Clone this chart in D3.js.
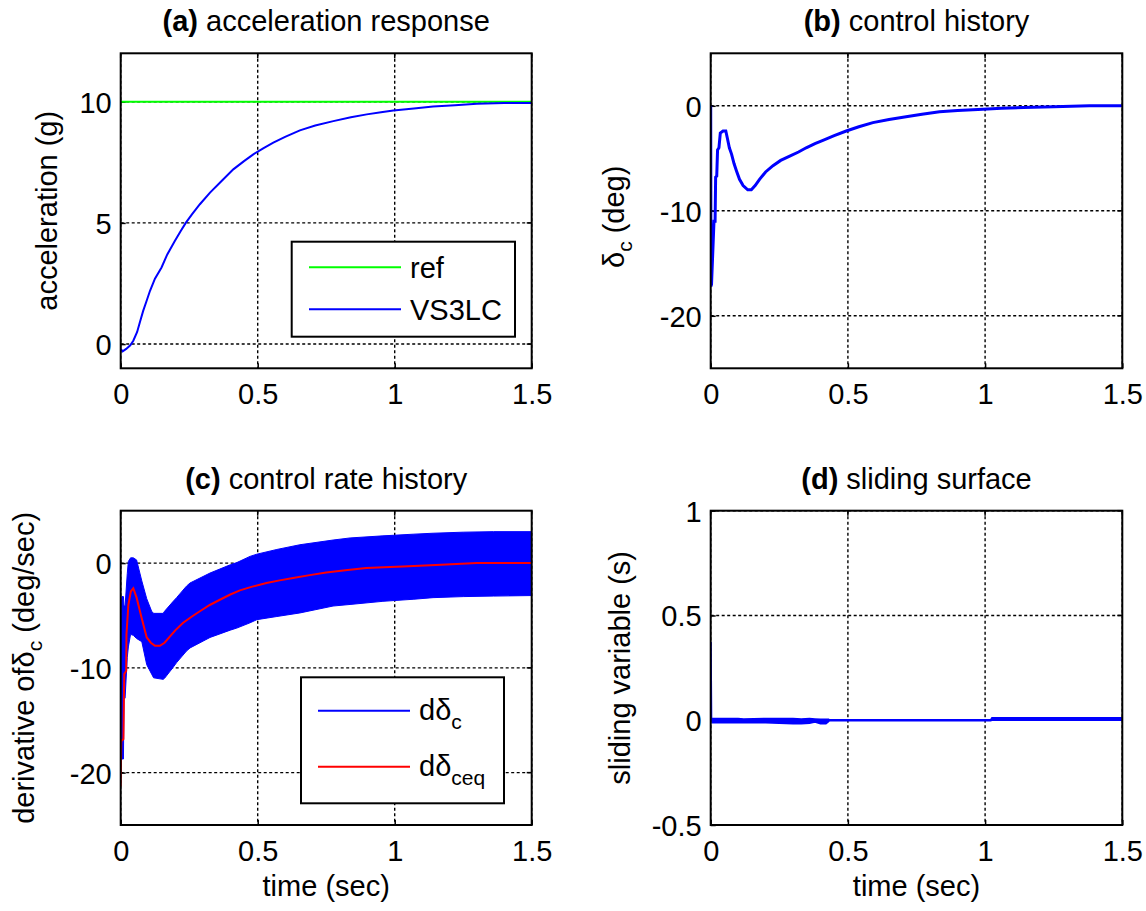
<!DOCTYPE html>
<html><head><meta charset="utf-8">
<script src="https://cdn.jsdelivr.net/npm/d3@7"></script>
<style>
body{margin:0;background:#fff;}
text{font-family:"Liberation Sans",Arial,Helvetica,sans-serif;fill:#000;}
</style></head>
<body><svg id="c" width="1146" height="911"></svg>
<script>
// ---------- data ----------
const xTicks = [0, 0.5, 1, 1.5];
const xTickLabels = ["0", "0.5", "1", "1.5"];

// (a) acceleration response
const accTime = [0, 0.007, 0.02, 0.035, 0.046, 0.06, 0.07, 0.082, 0.095, 0.107, 0.125, 0.149, 0.17, 0.198, 0.218, 0.238, 0.26, 0.289, 0.326, 0.37, 0.411, 0.45, 0.484, 0.52, 0.557, 0.6, 0.654, 0.71, 0.776, 0.84, 0.898, 0.95, 0.995, 1.07, 1.14, 1.22, 1.30, 1.40, 1.5];
const accVS3LC = [-0.2, -0.3, -0.2, -0.05, 0.14, 0.5, 0.9, 1.37, 1.8, 2.2, 2.7, 3.16, 3.7, 4.26, 4.65, 5.01, 5.35, 5.77, 6.25, 6.75, 7.21, 7.55, 7.83, 8.08, 8.31, 8.55, 8.82, 9.02, 9.2, 9.36, 9.48, 9.57, 9.64, 9.72, 9.8, 9.86, 9.92, 9.95, 9.95];
const accRefTime = [0, 1.5];
const accRef = [10, 10];
const accTicks = [0, 5, 10];

// (b) control history
const ctrlTime = [0, 0.001, 0.003, 0.012, 0.016, 0.018, 0.022, 0.025, 0.03, 0.035, 0.045, 0.055, 0.06, 0.068, 0.076, 0.085, 0.094, 0.105, 0.118, 0.135, 0.148, 0.162, 0.178, 0.2, 0.227, 0.255, 0.288, 0.32, 0.348, 0.38, 0.409, 0.45, 0.494, 0.54, 0.591, 0.65, 0.712, 0.77, 0.834, 0.9, 0.992, 1.06, 1.14, 1.25, 1.38, 1.5];
const ctrlDelta = [0, -17.2, -17.0, -11.0, -11.0, -6.8, -6.7, -4.2, -4.0, -2.6, -2.4, -2.4, -3.0, -4.0, -4.6, -5.5, -6.2, -7.0, -7.6, -8.0, -8.0, -7.6, -7.0, -6.3, -5.7, -5.2, -4.8, -4.4, -4.0, -3.6, -3.3, -2.85, -2.4, -2.0, -1.6, -1.3, -1.05, -0.8, -0.57, -0.45, -0.32, -0.24, -0.16, -0.08, 0, 0];
const ctrlTicks = [-20, -10, 0];

// (c) control rate history
const rateTime = [0, 0.004, 0.01, 0.012, 0.016, 0.024, 0.028, 0.036, 0.046, 0.058, 0.077, 0.095, 0.113, 0.12, 0.155, 0.16, 0.19, 0.204, 0.24, 0.253, 0.326, 0.4, 0.424, 0.472, 0.497, 0.57, 0.654, 0.775, 0.837, 0.957, 1.07, 1.14, 1.25, 1.36, 1.5];
const rateUpper = [-6.0, -3.2, -3.2, -4.1, -4.1, -1.0, 0.16, 0.5, 0.5, 0.3, -1.7, -3.4, -4.6, -4.8, -4.8, -4.6, -3.7, -3.3, -2.2, -1.9, -0.95, -0.16, 0.05, 0.64, 0.85, 1.3, 1.75, 2.2, 2.4, 2.6, 2.76, 2.85, 2.95, 3.0, 3.0];
const rateLower = [-18.7, -18.7, -18.7, -12.9, -12.9, -9.0, -8.0, -6.8, -6.9, -7.2, -7.5, -9.7, -10.6, -10.95, -11.1, -11.0, -10.0, -9.5, -8.4, -8.1, -7.1, -6.4, -6.2, -5.7, -5.4, -5.1, -4.76, -4.1, -3.95, -3.65, -3.45, -3.3, -3.2, -3.15, -3.1];
const rateEqTime = [0, 0.002, 0.01, 0.012, 0.013, 0.02, 0.021, 0.028, 0.037, 0.046, 0.058, 0.076, 0.095, 0.11, 0.125, 0.143, 0.16, 0.18, 0.2, 0.228, 0.26, 0.289, 0.325, 0.362, 0.4, 0.435, 0.48, 0.532, 0.58, 0.629, 0.69, 0.75, 0.82, 0.896, 0.96, 1.03, 1.15, 1.30, 1.5];
const rateEq = [-21.3, -17.0, -16.8, -12.2, -10.6, -10.3, -6.8, -4.0, -2.7, -2.4, -3.3, -5.2, -7.1, -7.6, -7.9, -7.9, -7.6, -7.0, -6.4, -5.7, -5.1, -4.6, -4.0, -3.5, -3.0, -2.6, -2.25, -1.9, -1.65, -1.43, -1.15, -0.9, -0.68, -0.48, -0.4, -0.32, -0.18, 0, 0];
const rateTicks = [-20, -10, 0];

// (d) sliding surface
const slideSpikeTime = [0, 0.001, 0.003, 0.006];
const slideSpike = [0.37, 0.37, 0.0, 0.0];
const slideTime = [0.005, 0.1, 0.12, 0.2, 0.25, 0.3, 0.33, 0.36, 0.38, 0.40, 0.42, 0.43, 0.432, 1.02, 1.025, 1.5];
const slideUpper = [0.008, 0.008, 0.006, 0.008, 0.008, 0.008, 0.006, 0.008, 0.006, 0.004, 0.004, 0.004, 0.002, 0.002, 0.012, 0.012];
const slideLower = [-0.012, -0.012, -0.01, -0.012, -0.014, -0.016, -0.016, -0.014, -0.008, -0.016, -0.016, -0.006, -0.002, -0.002, 0.0, 0.0];
const slideTicks = [-0.5, 0, 0.5, 1];
const slideTickLabels = ["-0.5", "0", "0.5", "1"];

// ---------- drawing ----------
const svg = d3.select("#c");
const FS = 29;
const SUB = 21;
const BLUE = "#0000ff", RED = "#ff0000", GREEN = "#00ff00";

function panel(o) {
  const x = d3.scaleLinear().domain([0, 1.5]).range([o.x0, o.x1]);
  const y = d3.scaleLinear().domain(o.yDomain).range([o.y1, o.y0]);
  const g = svg.append("g");
  const grid = g.append("g").attr("stroke", "#000").attr("stroke-width", 1.4).attr("stroke-dasharray", "3,2.5");
  xTicks.forEach(t => grid.append("line").attr("x1", x(t)).attr("x2", x(t)).attr("y1", o.y0).attr("y2", o.y1));
  o.yTicks.forEach(t => grid.append("line").attr("x1", o.x0).attr("x2", o.x1).attr("y1", y(t)).attr("y2", y(t)));
  const ax = g.append("g").attr("transform", `translate(0,${o.y1})`)
    .call(d3.axisBottom(x).tickValues(xTicks).tickSizeInner(-5).tickSizeOuter(0).tickFormat((d, i) => xTickLabels[i]));
  ax.select(".domain").remove();
  ax.selectAll("text").attr("font-size", FS).attr("dy", null).attr("y", 36).style("font-family", '"Liberation Sans",Arial,sans-serif');
  ax.selectAll("line").attr("stroke", "#000").attr("stroke-width", 1.5);
  const ay = g.append("g").attr("transform", `translate(${o.x0},0)`)
    .call(d3.axisLeft(y).tickValues(o.yTicks).tickSizeInner(-5).tickSizeOuter(0).tickFormat((d, i) => o.yLabels ? o.yLabels[i] : String(d)));
  ay.select(".domain").remove();
  ay.selectAll("text").attr("font-size", FS).attr("x", -9).attr("dy", "0.36em").style("font-family", '"Liberation Sans",Arial,sans-serif');
  ay.selectAll("line").attr("stroke", "#000").attr("stroke-width", 1.5);
  xTicks.forEach(t => g.append("line").attr("x1", x(t)).attr("x2", x(t)).attr("y1", o.y0).attr("y2", o.y0 + 5).attr("stroke", "#000").attr("stroke-width", 1.5));
  o.yTicks.forEach(t => g.append("line").attr("x1", o.x1).attr("x2", o.x1 - 5).attr("y1", y(t)).attr("y2", y(t)).attr("stroke", "#000").attr("stroke-width", 1.5));
  const cid = "clip" + o.id;
  svg.append("clipPath").attr("id", cid).append("rect").attr("x", o.x0).attr("y", o.y0).attr("width", o.x1 - o.x0).attr("height", o.y1 - o.y0);
  const data = g.append("g").attr("clip-path", `url(#${cid})`);
  o.draw(data, x, y);
  g.append("rect").attr("x", o.x0).attr("y", o.y0).attr("width", o.x1 - o.x0).attr("height", o.y1 - o.y0)
    .attr("fill", "none").attr("stroke", "#000").attr("stroke-width", 2);
  const tt = g.append("text").attr("x", (o.x0 + o.x1) / 2).attr("y", o.y0 - 22).attr("text-anchor", "middle").attr("font-size", FS);
  tt.append("tspan").attr("font-weight", "bold").text(o.tag);
  tt.append("tspan").text(" " + o.title);
  if (o.xlabel) g.append("text").attr("x", (o.x0 + o.x1) / 2).attr("y", o.y1 + 71).attr("text-anchor", "middle").attr("font-size", FS).text(o.xlabel);
  const yl = g.append("text").attr("transform", `translate(${o.ylx},${(o.y0 + o.y1) / 2 + (o.yloff || 0)}) rotate(-90)`).attr("text-anchor", "middle").attr("font-size", FS);
  o.ylabel(yl);
  return {x, y, g};
}

function lineOf(xs, ys, x, y) {
  return d3.line().x((d, i) => x(xs[i])).y((d, i) => y(ys[i]))(xs);
}
function areaOf(xs, lo, hi, x, y) {
  return d3.area().x((d, i) => x(xs[i])).y0((d, i) => y(lo[i])).y1((d, i) => y(hi[i]))(xs);
}

// (a)
const pa = panel({
  id: "a", x0: 120.7, x1: 531.7, y0: 53.3, y1: 368.3, yDomain: [-1, 12], yTicks: accTicks,
  tag: "(a)", title: "acceleration response", ylx: 57,
  ylabel: t => t.text("acceleration (g)"),
  draw: (d, x, y) => {
    d.append("path").attr("d", lineOf(accRefTime, accRef, x, y)).attr("fill", "none").attr("stroke", GREEN).attr("stroke-width", 2);
    d.append("path").attr("d", lineOf(accTime, accVS3LC, x, y)).attr("fill", "none").attr("stroke", BLUE).attr("stroke-width", 2);
  }
});
{
  const g = pa.g;
  g.append("rect").attr("x", 291.7).attr("y", 241.7).attr("width", 223.3).attr("height", 95).attr("fill", "#fff").attr("stroke", "#000").attr("stroke-width", 2);
  g.append("line").attr("x1", 309).attr("x2", 401).attr("y1", 267.3).attr("y2", 267.3).attr("stroke", GREEN).attr("stroke-width", 2);
  g.append("line").attr("x1", 309).attr("x2", 401).attr("y1", 309.3).attr("y2", 309.3).attr("stroke", BLUE).attr("stroke-width", 2);
  g.append("text").attr("x", 410).attr("y", 267.3).attr("dy", "0.36em").attr("font-size", FS).text("ref");
  g.append("text").attr("x", 410).attr("y", 309.3).attr("dy", "0.36em").attr("font-size", FS).text("VS3LC");
}

// (b)
panel({
  id: "b", x0: 710.7, x1: 1122.3, y0: 53.3, y1: 368.3, yDomain: [-25, 5], yTicks: ctrlTicks,
  tag: "(b)", title: "control history", ylx: 624, yloff: 6,
  ylabel: t => { t.append("tspan").text("δ"); t.append("tspan").attr("font-size", SUB).attr("dy", 8).text("c"); t.append("tspan").attr("dy", -8).text(" (deg)"); },
  draw: (d, x, y) => {
    d.append("path").attr("d", lineOf(ctrlTime, ctrlDelta, x, y)).attr("fill", "none").attr("stroke", BLUE).attr("stroke-width", 3);
  }
});

// (c)
const pc = panel({
  id: "c", x0: 120.7, x1: 531.7, y0: 510.7, y1: 825, yDomain: [-25, 5], yTicks: rateTicks,
  tag: "(c)", title: "control rate history", xlabel: "time (sec)", ylx: 34,
  ylabel: t => { t.append("tspan").text("derivative ofδ"); t.append("tspan").attr("font-size", SUB).attr("dy", 8).text("c"); t.append("tspan").attr("dy", -8).text("  (deg/sec)"); },
  draw: (d, x, y) => {
    d.append("path").attr("d", areaOf(rateTime, rateLower, rateUpper, x, y)).attr("fill", BLUE).attr("stroke", BLUE).attr("stroke-width", 1);
    d.append("path").attr("d", lineOf(rateEqTime, rateEq, x, y)).attr("fill", "none").attr("stroke", RED).attr("stroke-width", 2);
  }
});
{
  const g = pc.g;
  g.append("rect").attr("x", 301).attr("y", 677.3).attr("width", 203).attr("height", 126).attr("fill", "#fff").attr("stroke", "#000").attr("stroke-width", 2);
  g.append("line").attr("x1", 318).attr("x2", 410).attr("y1", 710.7).attr("y2", 710.7).attr("stroke", BLUE).attr("stroke-width", 2);
  g.append("line").attr("x1", 318).attr("x2", 410).attr("y1", 766.7).attr("y2", 766.7).attr("stroke", RED).attr("stroke-width", 2);
  const t1 = g.append("text").attr("x", 419).attr("y", 720).attr("font-size", FS);
  t1.append("tspan").text("dδ"); t1.append("tspan").attr("font-size", SUB).attr("dy", 9).text("c");
  const t2 = g.append("text").attr("x", 419).attr("y", 776).attr("font-size", FS);
  t2.append("tspan").text("dδ"); t2.append("tspan").attr("font-size", SUB).attr("dy", 9).text("ceq");
}

// (d)
panel({
  id: "d", x0: 710.7, x1: 1122.3, y0: 510.7, y1: 825, yDomain: [-0.5, 1], yTicks: slideTicks, yLabels: slideTickLabels,
  tag: "(d)", title: "sliding surface", xlabel: "time (sec)", ylx: 630,
  ylabel: t => t.text("sliding variable (s)"),
  draw: (d, x, y) => {
    d.append("path").attr("d", lineOf(slideSpikeTime, slideSpike, x, y)).attr("fill", "none").attr("stroke", BLUE).attr("stroke-width", 1.6);
    d.append("path").attr("d", areaOf(slideTime, slideLower, slideUpper, x, y)).attr("fill", BLUE).attr("stroke", BLUE).attr("stroke-width", 1.6);
  }
});
</script></body></html>
